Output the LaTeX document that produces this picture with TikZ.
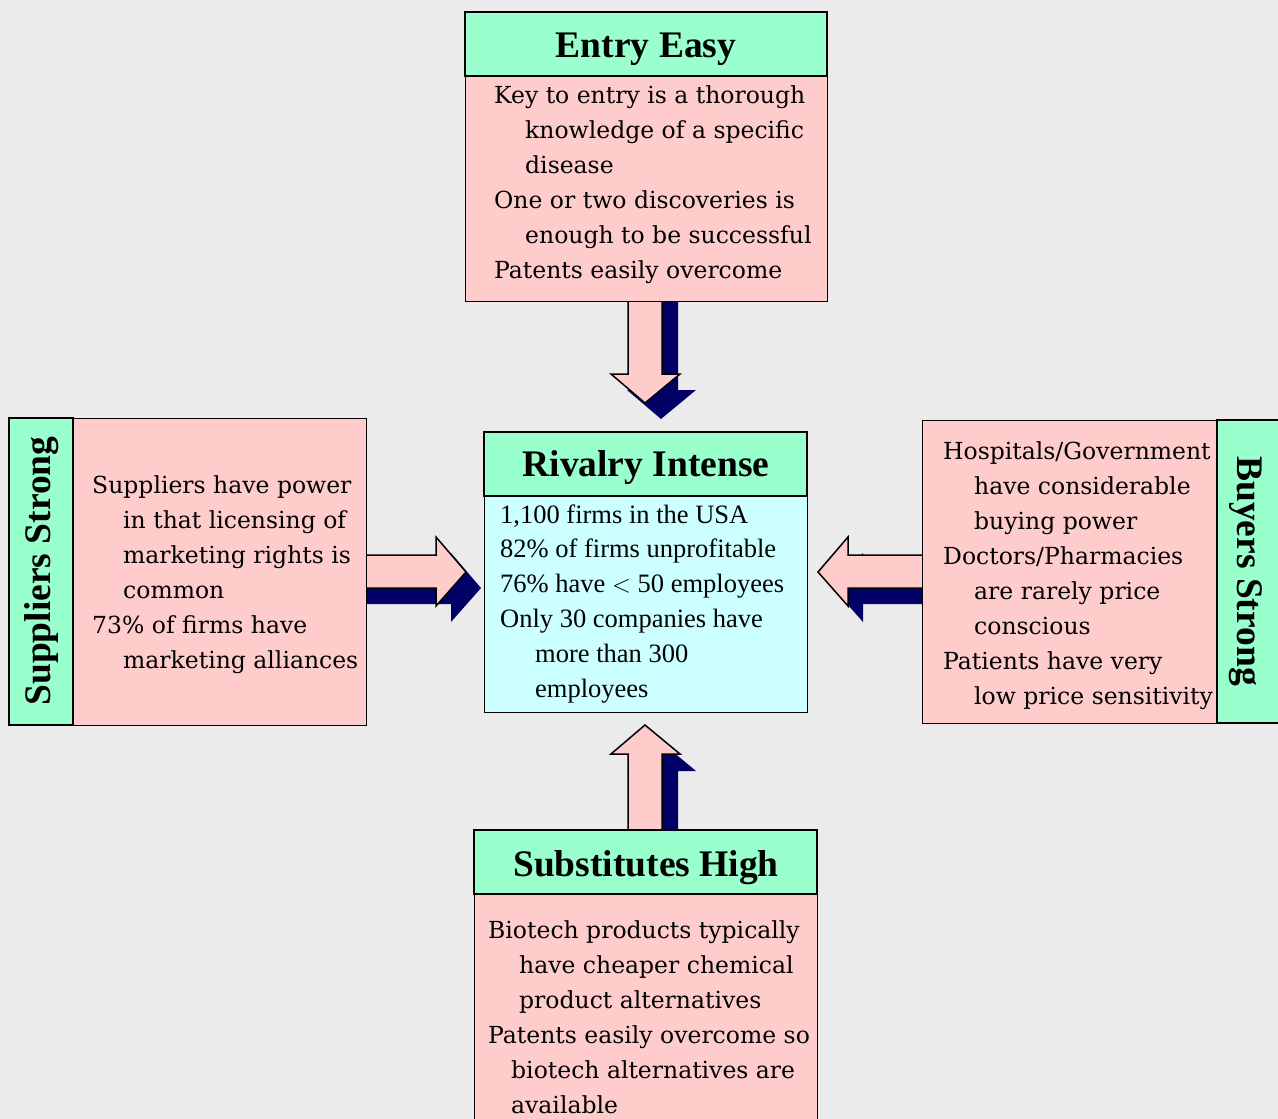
\documentclass[tikz,border=0pt]{standalone}
\usepackage{fontspec}
\setmainfont{Liberation Serif}
\newfontfamily\bodyserif{DejaVu Serif}
\newfontfamily\centerserif{Liberation Serif}
\definecolor{bgcol}{HTML}{EBEBEB}
\definecolor{pinkfill}{HTML}{FFCCCC}
\definecolor{mintfill}{HTML}{99FFCC}
\definecolor{cyanfill}{HTML}{CCFFFF}
\definecolor{navy}{HTML}{000066}
\newcommand\blocklines[1]{\begin{tabular}[t]{@{}l@{}}#1\end{tabular}}
\newcommand\hangind{\hspace*{31pt}}
\tikzset{
  titlebox/.style={draw=black, line width=1.2pt, fill=mintfill},
  pinkbox/.style={draw=black, line width=0.8pt, fill=pinkfill},
  cyanbox/.style={draw=black, line width=0.8pt, fill=cyanfill},
  titletext/.style={inner sep=0pt, anchor=base, font=\fontsize{37.5}{40}\selectfont\bfseries},
  sidetitle/.style={inner sep=0pt, font=\fontsize{37.5}{40}\selectfont\bfseries},
  bodytext/.style={anchor=base west, inner sep=0pt, font=\bodyserif\fontsize{23.5}{35}\selectfont},
  centertext/.style={anchor=base west, inner sep=0pt, font=\centerserif\fontsize{26.5}{34.8}\selectfont},
  shadow/.style={fill=navy, draw=none},
  pinkarrow/.style={fill=pinkfill, draw=black, line width=1.5pt, line join=miter},
}
\begin{document}
\begin{tikzpicture}[x=1pt, y=-1pt]
\useasboundingbox (0,0) rectangle (1278,1119);
\fill[bgcol] (0,0) rectangle (1278,1119);

% arrow shadows
\fill[shadow] (644,301) -- (644,390) -- (627,390) -- (661,419) -- (696,390) -- (678,390) -- (678,301) -- cycle;
\fill[shadow] (366,571) -- (451,571) -- (451,553) -- (481,588) -- (451,622) -- (451,604) -- (366,604) -- cycle;
\fill[shadow] (922,571) -- (863,571) -- (863,553) -- (833,588) -- (863,622) -- (863,604) -- (922,604) -- cycle;
\fill[shadow] (644,830) -- (644,771) -- (627,771) -- (661,742) -- (696,771) -- (678,771) -- (678,830) -- cycle;

% block arrows pointing at the rivalry box
\draw[pinkarrow] (628,301) -- (628,374) -- (611,374) -- (645,403) -- (680,374) -- (662,374) -- (662,301);
\draw[pinkarrow] (366,555) -- (436,555) -- (436,537) -- (466,572) -- (436,606) -- (436,588) -- (366,588);
\draw[pinkarrow] (922,555) -- (848,555) -- (848,537) -- (818,572) -- (848,606) -- (848,588) -- (922,588);
\draw[pinkarrow] (628,830) -- (628,754) -- (611,754) -- (645,725) -- (680,754) -- (662,754) -- (662,830);

% Entry
\draw[pinkbox] (465,76) rectangle (827,301);
\draw[titlebox] (465,12) rectangle (827,76);
\node[titletext] (entryT) at (646,57) {Entry Easy};
\node[bodytext] (entryB) at (494,103) {\blocklines{Key to entry is a thorough\\
\hangind knowledge of a specific\\
\hangind disease\\
One or two discoveries is\\
\hangind enough to be successful\\
Patents easily overcome}};

% Rivalry
\draw[cyanbox] (484,496) rectangle (807,712);
\draw[titlebox] (484,432) rectangle (807,496);
\node[titletext] (rivT) at (646,476) {Rivalry Intense};
\node[centertext] (rivB) at (500,523) {\blocklines{1,100 firms in the USA\\
82\% of firms unprofitable\\
76\% have $<$ 50 employees\\
Only 30 companies have\\
\hspace*{35pt}more than 300\\
\hspace*{35pt}employees}};

% Suppliers
\draw[pinkbox] (73,418) rectangle (366,725);
\draw[titlebox] (9,418) rectangle (73,725);
\node[sidetitle, rotate=90] (supT) at (42,571) {Suppliers Strong};
\node[bodytext] (supB) at (92,493) {\blocklines{Suppliers have power\\
\hangind in that licensing of\\
\hangind marketing rights is\\
\hangind common\\
73\% of firms have\\
\hangind marketing alliances}};

% Buyers
\draw[pinkbox] (922,420) rectangle (1217,723);
\draw[titlebox] (1217,420) rectangle (1282,723);
\node[sidetitle, rotate=-90] (buyT) at (1246,571) {Buyers Strong};
\node[bodytext] (buyB) at (943,459) {\blocklines{Hospitals/Government\\
\hangind have considerable\\
\hangind buying power\\
Doctors/Pharmacies\\
\hangind are rarely price\\
\hangind conscious\\
Patients have very\\
\hangind low price sensitivity}};

% Substitutes
\draw[pinkbox] (474,894) rectangle (817,1125);
\draw[titlebox] (474,830) rectangle (817,894);
\node[titletext] (subT) at (646,876) {Substitutes High};
\node[bodytext] (subB) at (488,938) {\blocklines{Biotech products typically\\
\hangind have cheaper chemical\\
\hangind product alternatives\\
Patents easily overcome so\\
\hspace*{23pt}biotech alternatives are\\
\hspace*{23pt}available}};
\end{tikzpicture}
\end{document}
